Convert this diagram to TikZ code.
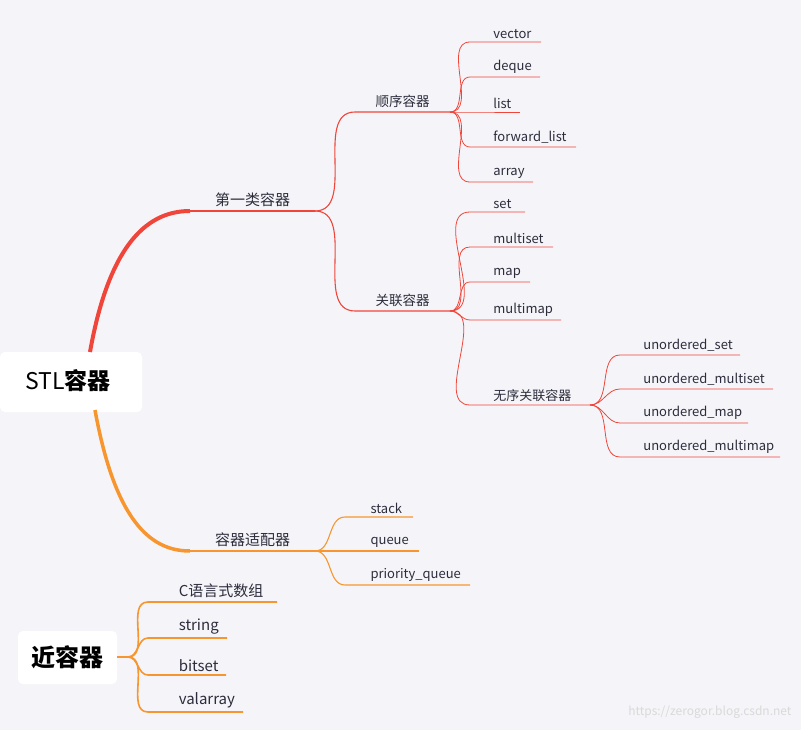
\documentclass[tikz,border=0pt]{standalone}
\usepackage{fontspec}
\setmainfont{Noto Sans CJK SC}
\definecolor{bgc}{HTML}{F5F5F9}
\definecolor{redc}{HTML}{F0453A}
\definecolor{orac}{HTML}{F7962E}
\definecolor{txtc}{HTML}{2C2C3C}
\tikzset{
  leaf/.style={anchor=south west,inner sep=3pt,font=\fontsize{13}{15}\selectfont,text=txtc},
  mid/.style={anchor=south,inner sep=4pt,font=\fontsize{13.5}{15}\selectfont,text=txtc},
  link/.style={line width=0.8pt},
  rootbox/.style={fill=white,rounded corners=5pt}
}
\begin{document}
\begin{tikzpicture}[x=1pt,y=-1pt]
    % background
    \fill[bgc] (0,0) rectangle (801,730);
    \useasboundingbox (0,0) rectangle (801,730);

    % roots
    \fill[rootbox] (0,352) rectangle (142,412);
    \node[font=\fontsize{23}{26}\selectfont,text=black] (stl) at (68,381) {STL\textbf{容器}};
    \fill[rootbox] (18,631) rectangle (117,684);
    \node[font=\bfseries\fontsize{24}{27}\selectfont,text=black] (near) at (67,657) {近容器};

    % first level
    \coordinate (s1) at (90,352);
    \coordinate (a1) at (190,211); \coordinate (b1) at (315,211);
    \coordinate (s2) at (95,410);
    \coordinate (a2) at (190,551); \coordinate (b2) at (315,551);
    \draw[redc,line width=4pt] (s1) .. controls (110,240) and (150,211) .. (a1);
    \draw[orac,line width=3.5pt] (s2) .. controls (115,520) and (150,551) .. (a2);
    \draw[redc,line width=1.3pt] (a1) -- (b1) node[mid,midway,font=\fontsize{15}{17}\selectfont] {第一类容器};
    \draw[orac,line width=1.3pt] (a2) -- (b2) node[mid,midway,font=\fontsize{15}{17}\selectfont] {容器适配器};

    % second level
    \coordinate (a3) at (355,112); \coordinate (b3) at (450,112);
    \coordinate (a4) at (355,311); \coordinate (b4) at (450,311);
    \draw[redc,line width=1.1pt] (b1) to[out=0,in=180] (a3) -- (b3) node[mid,midway] {顺序容器};
    \draw[redc,line width=1.1pt] (b1) to[out=0,in=180] (a4) -- (b4) node[mid,midway] {关联容器};

    % leaves
    \foreach \y/\e/\t in {42/541/vector,77/540/deque,112/520/list,147/576/forward\_list,182/533/array}
      \draw[redc,link] (b3) to[out=0,in=180] (470,\y) -- (\e,\y) node[leaf,at start] {\hspace{20pt}\t};
    \foreach \y/\e/\t in {212/525/set,247/553/multiset,282/530/map,320/561/multimap}
      \draw[redc,link] (b4) to[out=0,in=180] (470,\y) -- (\e,\y) node[leaf,at start] {\hspace{20pt}\t};
    \coordinate (a5) at (470,405); \coordinate (b5) at (590,405);
    \draw[redc,link] (b4) to[out=0,in=180] (a5) -- (b5) node[leaf,at start] {\hspace{20pt}无序关联容器};
    \foreach \y/\e/\t in {355/740/unordered\_set,389/773/unordered\_multiset,423/748/unordered\_map,457/780/unordered\_multimap}
      \draw[redc,link] (b5) to[out=0,in=180] (620,\y) -- (\e,\y) node[leaf,at start] {\hspace{20pt}\t};
    \foreach \y/\e/\t in {517/413/stack,551/419/queue,585/470/priority\_queue}
      \draw[orac,line width=1.1pt] (b2) to[out=0,in=180] (345,\y) -- (\e,\y) node[leaf,at start] {\hspace{22pt}\t};
    \coordinate (n0) at (117,657);
    \foreach \y/\e/\t in {602/277/C语言式数组,638/227/string,675/226/bitset,712/243/valarray}
      \draw[orac,line width=1.6pt] (n0) -- (128,657) to[out=0,in=180] (148,\y) -- (\e,\y) node[leaf,at start,font=\fontsize{15}{17}\selectfont] {\hspace{27pt}\t};

    % watermark
    \node[anchor=east,text=white!70!gray,font=\fontsize{12}{14}\selectfont] (wm) at (795,712) {https://zerogor.blog.csdn.net};
\end{tikzpicture}
\end{document}
